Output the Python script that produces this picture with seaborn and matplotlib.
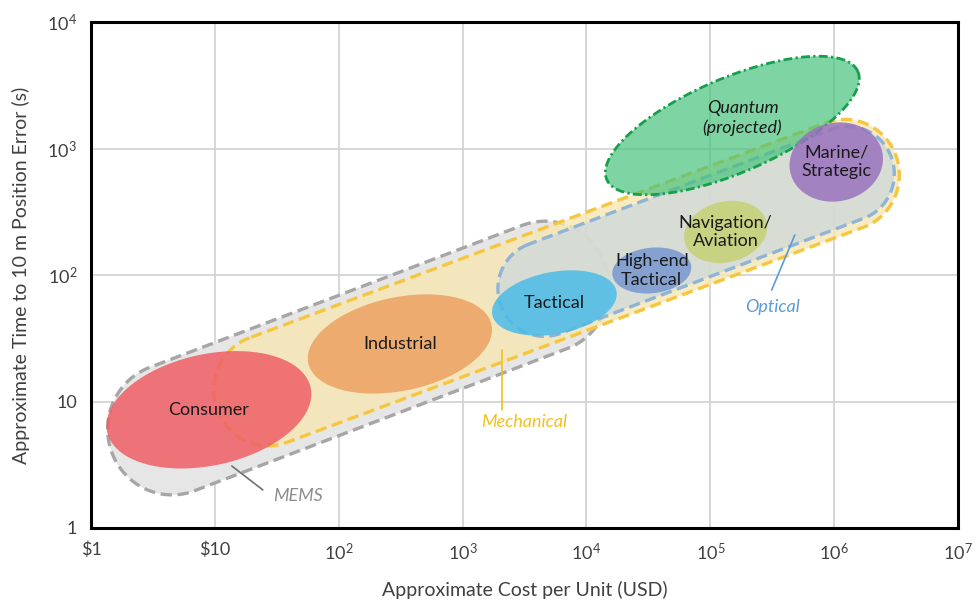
import numpy as np
import matplotlib
matplotlib.use("Agg")
import matplotlib.pyplot as plt
from matplotlib.colors import to_rgba
import seaborn as sns

# Sensor grades: centre cost (USD), centre time to 10 m error (s),
# half-spread along the long and short axis (decades) and tilt (deg)
grades = ["Consumer", "Industrial", "Tactical", "High-end\nTactical",
          "Navigation/\nAviation", "Marine/\nStrategic"]
grade_cost = [8.95, 312, 5510, 33700, 133000, 1.04e6]
grade_time = [8.6, 28.5, 60.1, 108.6, 219, 782]
grade_major = [0.84, 0.755, 0.51, 0.32, 0.34, 0.38]
grade_minor = [0.44, 0.37, 0.245, 0.18, 0.24, 0.31]
grade_tilt = [11.9, 11.4, 10.4, 6.0, 13.0, 12.0]

# Gyro technologies: band from low end to high end, half-width (decades)
techs = ["MEMS", "Mechanical", "Optical"]
tech_cost_lo = [4.51, 26.9, 4570]
tech_time_lo = [6.05, 12.3, 77.6]
tech_cost_hi = [4610, 1.22e6, 1.29e6]
tech_time_hi = [80.4, 617, 631]
tech_halfwidth = [0.52, 0.44, 0.375]

# Projected quantum sensors
quantum_cost = 150600
quantum_time = 1520
quantum_major = 1.10
quantum_minor = 0.375
quantum_tilt = 22.7

x_ticks = [1, 10, 1e2, 1e3, 1e4, 1e5, 1e6, 1e7]
x_ticklabels = [r"\$1", r"\$10", "$10^{2}$", "$10^{3}$", "$10^{4}$",
                "$10^{5}$", "$10^{6}$", "$10^{7}$"]
y_ticks = [1, 10, 1e2, 1e3, 1e4]
y_ticklabels = ["1", "10", "$10^{2}$", "$10^{3}$", "$10^{4}$"]

grade_colors = ["#ef5f66", "#eca163", "#4cbbe8", "#7797d0", "#c6d175", "#9a72be"]
tech_face = ["#e6e6e6", "#f8e6b2", "#ccd9dc"]
tech_face_alpha = [1.0, 0.8, 0.75]
tech_edge = ["#a6a6a6", "#f5c640", "#8fb4d6"]
tech_text = ["#8c8c8c", "#f2c01f", "#5b9bd5"]

sns.set_theme(style="white")
plt.rcParams["font.family"] = ["Lato", "DejaVu Sans"]
plt.rcParams["mathtext.fontset"] = "custom"
plt.rcParams["mathtext.rm"] = "Lato"
plt.rcParams["mathtext.it"] = "Lato:italic"


def ellipse_pts(cx, cy, a, b, tilt, n=240):
    t = np.linspace(0, 2 * np.pi, n)
    th = np.deg2rad(tilt)
    lx, ly = np.log10(cx), np.log10(cy)
    x = lx + a * np.cos(t) * np.cos(th) - b * np.sin(t) * np.sin(th)
    y = ly + a * np.cos(t) * np.sin(th) + b * np.sin(t) * np.cos(th)
    return 10 ** x, 10 ** y


def band_pts(c0, t0, c1, t1, r, n=120):
    x0, y0, x1, y1 = np.log10([c0, t0, c1, t1])
    ang = np.arctan2(y1 - y0, x1 - x0)
    a0 = np.linspace(ang + np.pi / 2, ang + 3 * np.pi / 2, n)
    a1 = np.linspace(ang - np.pi / 2, ang + np.pi / 2, n)
    x = np.concatenate([x0 + r * np.cos(a0), x1 + r * np.cos(a1), [x0 + r * np.cos(a0[0])]])
    y = np.concatenate([y0 + r * np.sin(a0), y1 + r * np.sin(a1), [y0 + r * np.sin(a0[0])]])
    return 10 ** x, 10 ** y


fig = plt.figure(figsize=(9.76, 6.02), dpi=100)
ax = fig.add_axes([91 / 976, 1 - 528 / 602, 867 / 976, 506 / 602])
ax.set_xscale("log")
ax.set_yscale("log")
ax.set_xlim(1, 1e7)
ax.set_ylim(1, 1e4)

dash = (0, (3.4, 1.7))
for i, name in enumerate(techs):
    xs, ys = band_pts(tech_cost_lo[i], tech_time_lo[i], tech_cost_hi[i],
                      tech_time_hi[i], tech_halfwidth[i])
    ax.fill(xs, ys, facecolor=to_rgba(tech_face[i], tech_face_alpha[i]),
            edgecolor="none", zorder=2 + i)
    ax.plot(xs, ys, color=tech_edge[i], lw=2.4, ls=dash,
            dash_capstyle="butt", zorder=2 + i)

# quantum region
xs, ys = ellipse_pts(quantum_cost, quantum_time, quantum_major, quantum_minor, quantum_tilt)
ax.fill(xs, ys, facecolor=to_rgba("#47c27c", 0.7), edgecolor="none", zorder=6)
ax.plot(xs, ys, color="#15a04b", lw=2.0, ls=(0, (3.2, 1.2, 0.8, 1.2)), zorder=6)
ax.text(182000, 1740, "Quantum\n(projected)", ha="center", va="center",
        fontsize=13, style="italic", color="#1a1a1a", linespacing=1.2, zorder=9)

for i, name in enumerate(grades):
    xs, ys = ellipse_pts(grade_cost[i], grade_time[i], grade_major[i],
                         grade_minor[i], grade_tilt[i])
    ax.fill(xs, ys, facecolor=to_rgba(grade_colors[i], 0.85), edgecolor="none", zorder=7)
    ax.text(grade_cost[i], grade_time[i], name, ha="center", va="center",
            fontsize=13, color="#1a1a1a", linespacing=1.2, zorder=9)

# technology call-outs
ax.plot([13.7, 24.4], [3.09, 2.0], color="#707070", lw=1.2, zorder=9)
ax.text(46.9, 1.79, "MEMS", ha="center", va="center", fontsize=13,
        style="italic", color=tech_text[0], zorder=9)
ax.plot([2075, 2075], [25.5, 8.57], color=tech_text[1], lw=1.2, zorder=9)
ax.text(3125, 6.89, "Mechanical", ha="center", va="center", fontsize=13,
        style="italic", color=tech_text[1], zorder=9)
ax.plot([481000, 313000], [207, 76.1], color=tech_text[2], lw=1.2, zorder=9)
ax.text(319000, 55.8, "Optical", ha="center", va="center", fontsize=13,
        style="italic", color=tech_text[2], zorder=9)

ax.set_xticks(x_ticks)
ax.set_xticklabels(x_ticklabels)
ax.set_yticks(y_ticks)
ax.set_yticklabels(y_ticklabels)
ax.minorticks_off()
ax.grid(True, color="#d4d4d4", lw=1.3)
ax.set_axisbelow(True)
for s in ax.spines.values():
    s.set_color("black")
    s.set_linewidth(2.2)
    s.set_zorder(10)
ax.tick_params(axis="both", which="major", direction="out", length=6, width=1.8,
               color="black", labelcolor="#404040", labelsize=13, pad=4)

ax.set_xlabel("Approximate Cost per Unit (USD)", fontsize=14, color="#404040", labelpad=13)
ax.set_ylabel("Approximate Time to 10 m Position Error (s)", fontsize=14,
              color="#404040", labelpad=12)

fig.savefig("out.png", dpi=100)
